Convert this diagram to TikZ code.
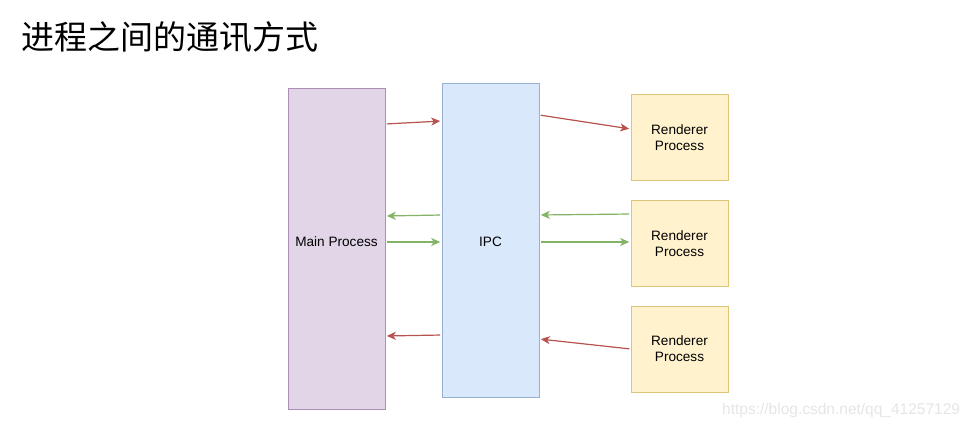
\documentclass[tikz,border=0pt]{standalone}
\usepackage{fontspec}
\setmainfont{Liberation Sans}
\newfontfamily\cjk{Noto Sans CJK SC}
\usetikzlibrary{arrows.meta}
\definecolor{mainfill}{HTML}{E1D5E7}
\definecolor{maindraw}{HTML}{9673A6}
\definecolor{ipcfill}{HTML}{DAE8FC}
\definecolor{ipcdraw}{HTML}{6C8EBF}
\definecolor{rendfill}{HTML}{FFF2CC}
\definecolor{renddraw}{HTML}{D6B656}
\definecolor{redline}{HTML}{B85450}
\definecolor{greenline}{HTML}{82B366}
\tikzset{
procbox/.style={draw, inner sep=0pt, line width=0.6pt, align=center,
  font=\fontsize{13.6}{16}\selectfont, minimum width=97pt},
mainbox/.style={procbox, fill=mainfill, draw=maindraw!80, minimum height=321pt,
  text depth=14pt},
ipcbox/.style={procbox, fill=ipcfill, draw=ipcdraw!70, minimum height=314pt,
  text height=13.8pt},
rendbox/.style={procbox, fill=rendfill, draw=renddraw!80, minimum height=86pt},
msg/.style={line width=1.2pt, -{Stealth[length=9pt,width=8pt,inset=2.5pt]},
  shorten <=1.5pt, shorten >=1.5pt},
redmsg/.style={msg, draw=redline, fill=redline},
greenmsg/.style={msg, draw=greenline, fill=greenline}
}
\begin{document}
\begin{tikzpicture}[x=1pt, y=-1pt]
\useasboundingbox (0,0) rectangle (974,428);
\node[anchor=west, inner sep=0pt, font=\cjk\fontsize{33}{33}\selectfont]
  (title) at (21,37) {进程之间的通讯方式};

\node[mainbox] (main) at (336.5,248.5) {Main Process};
\node[ipcbox] (ipc) at (490.5,240) {IPC};
\node[rendbox] (r1) at (679.5,137.5) {Renderer\\Process};
\node[rendbox] (r2) at (679.5,243.5) {Renderer\\Process};
\node[rendbox] (r3) at (679.5,349) {Renderer\\Process};

% main <-> ipc
\draw[redmsg] ([yshift=124.5pt]main.east) -- ([yshift=119pt]ipc.west);
\draw[greenmsg] ([yshift=25pt]ipc.west) -- ([yshift=32.5pt]main.east);
\draw[greenmsg] ([yshift=6.5pt]main.east) -- ([yshift=-2pt]ipc.west);
\draw[redmsg] ([yshift=-95pt]ipc.west) -- ([yshift=-87.5pt]main.east);

% ipc <-> renderers
\draw[redmsg] ([yshift=125pt]ipc.east) -- ([yshift=8.5pt]r1.west);
\draw[greenmsg] ([yshift=29.5pt]r2.west) -- ([yshift=25pt]ipc.east);
\draw[greenmsg] ([yshift=-2pt]ipc.east) -- ([yshift=1.5pt]r2.west);
\draw[redmsg] ([yshift=0pt]r3.west) -- ([yshift=-99pt]ipc.east);

\node[anchor=west, inner sep=0pt, text=black!10,
  font=\fontsize{15.5}{16}\selectfont] (mark) at (722,410)
  {https://blog.csdn.net/qq\_41257129};
\end{tikzpicture}
\end{document}
